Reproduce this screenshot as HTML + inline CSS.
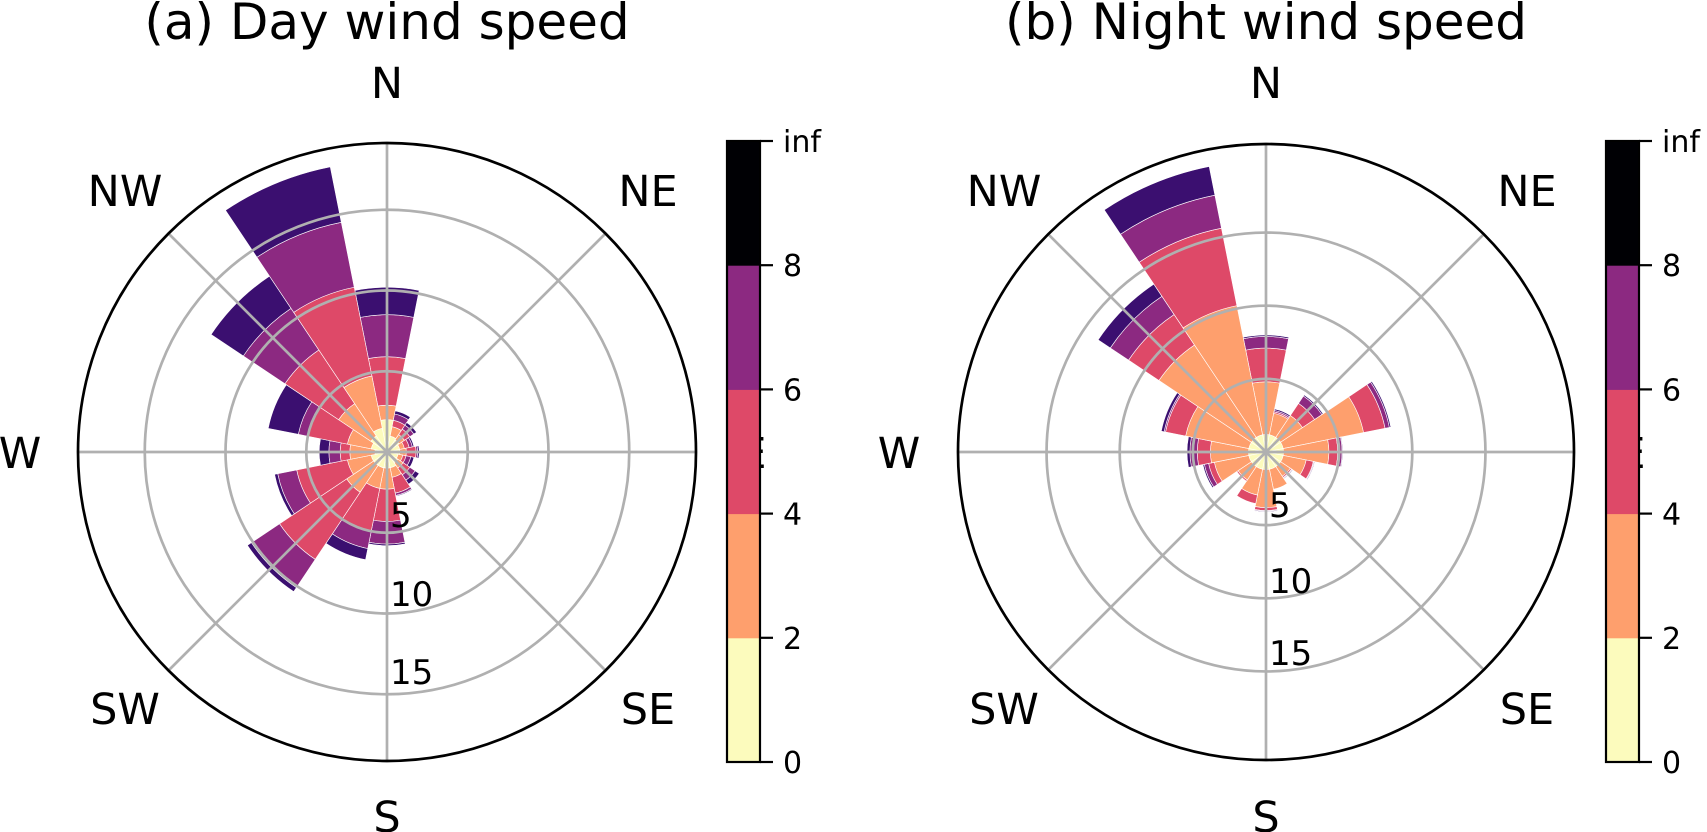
<!DOCTYPE html>
<html><head><meta charset="utf-8"><style>
html,body{margin:0;padding:0;background:#fff;}
svg{display:block;font-family:"DejaVu Sans","Liberation Sans",sans-serif;}
</style></head><body>
<svg id="fig" width="1707" height="832" viewBox="0 0 1707 832"></svg>
<script>
const directions = ["N","NNE","NE","ENE","E","ESE","SE","SSE","S","SSW","SW","WSW","W","WNW","NW","NNW"];
const binLabels = ["0-2","2-4","4-6","6-8","8-inf"];
const binColors = ["#fcfbbd","#fe9f6d","#de4968","#8c2981","#3b0f70"];
const cbTicks = ["0","2","4","6","8","inf"];
const cbColors = ["#fcfbbd","#fe9f6d","#de4968","#8c2981","#000004"];
// Day: per-bin frequency (stacked), per direction
const day0 = [2.0,1.0,0.9,0.8,0.8,0.7,0.8,1.0,1.0,1.0,1.0,1.0,0.75,1.0,1.2,1.5];
const day1 = [0.9,0.6,0.4,0.3,0.4,0.3,0.4,0.6,1.3,1.3,2.0,1.5,1.55,1.5,2.4,3.3];
const day2 = [3.0,0.4,0.4,0.3,0.6,0.2,0.5,1.0,2.0,2.7,5.0,3.2,0.6,2.5,4.0,5.6];
const day3 = [2.6,0.4,0.3,0.2,0.1,0.3,0.4,0.15,1.4,1.1,2.1,1.2,0.7,0.6,3.1,4.1];
const day4 = [1.7,0.2,0.2,0.1,0.1,0.2,0.3,0.05,0.1,0.7,0.3,0.2,0.6,1.9,2.4,3.5];
// Night
const night0 = [1.2,1.2,1.2,1.2,1.2,1.2,1.2,1.2,1.2,1.2,1.2,1.2,1.2,1.2,1.2,1.2];
const night1 = [3.6,1.5,1.8,5.6,3.1,1.6,0.8,1.4,2.6,1.8,1.1,2.4,2.6,4.4,7.6,9.0];
const night2 = [2.3,0.1,1.0,1.5,0.6,0.5,0.1,0.0,0.2,0.6,0.1,0.4,0.9,1.4,2.5,5.4];
const night3 = [0.8,0.1,0.6,0.3,0.3,0.05,0.05,0.0,0.05,0.0,0.0,0.3,0.5,0.1,1.5,2.3];
const night4 = [0.1,0.1,0.1,0.1,0.05,0.05,0.05,0.0,0.05,0.0,0.0,0.1,0.2,0.2,1.0,2.0];
const radialTicks = [5,10,15];

const NS="http://www.w3.org/2000/svg";
const svg=document.getElementById('fig');
function mk(tag,attrs,parent){const e=document.createElementNS(NS,tag);for(const k in attrs)e.setAttribute(k,attrs[k]);(parent||svg).appendChild(e);return e;}

function drawRose(cfg){
  const g=mk('g',{});
  
  
  const cx=cfg.cx, cy=cfg.cy, R=cfg.R, ppu=cfg.ppu;
  const rScale=v=>v*ppu;
  const pt=(deg,r)=>[cx+r*Math.sin(deg*Math.PI/180), cy-r*Math.cos(deg*Math.PI/180)];
  const bins=cfg.bins;
  for(let d=0; d<directions.length; d++){
    let base=0;
    const a0=d*22.5-11.25, a1=d*22.5+11.25;
    for(let b=0;b<bins.length;b++){
      const v=bins[b][d]; if(v<=0) continue;
      const r0=rScale(base), r1=rScale(base+v);
      base+=v;
      const p1=pt(a0,r0),p2=pt(a0,r1),p3=pt(a1,r1),p4=pt(a1,r0);
      const path=`M${p1[0]},${p1[1]} L${p2[0]},${p2[1]} A${r1},${r1} 0 0 1 ${p3[0]},${p3[1]} L${p4[0]},${p4[1]} `+(r0>0?`A${r0},${r0} 0 0 0 ${p1[0]},${p1[1]}`:'')+'Z';
      const el=mk('path',{d:path,fill:binColors[b],stroke:'#fff','stroke-width':0.6},g);
      
      
    }
  }
  radialTicks.forEach(t=>{
    const c=mk('circle',{cx:cx,cy:cy,r:rScale(t),fill:'none',stroke:'#b0b0b0','stroke-width':2.7},g);
    
    
  });
  for(let k=0;k<8;k++){
    const p=pt(k*45,R);
    const l=mk('line',{x1:cx,y1:cy,x2:p[0],y2:p[1],stroke:'#b0b0b0','stroke-width':2.7},g);
    
    
  }
  const oc=mk('circle',{cx:cx,cy:cy,r:R,fill:'none',stroke:'#000','stroke-width':2.7},g);
  
  
  radialTicks.forEach((t,i)=>{
    const tx=mk('text',{x:cx+3,y:cfg.rlab[i],'font-size':34,fill:'#000'},g);
    tx.textContent=String(t);
    
    
  });
  const dl=[["N",cx,82],["NE",cx+261,190],["E",cx+366,452],["SE",cx+261,708],["S",cx,816],["SW",cx-262,708],["W",cx-367,452],["NW",cx-262,190]];
  dl.forEach(o=>{
    const tx=mk('text',{x:o[1],y:o[2]+16,'font-size':43,'text-anchor':'middle',fill:'#000'},g);
    tx.textContent=o[0];
    
    
  });
  const tt=mk('text',{x:cx,y:39,'font-size':50,'text-anchor':'middle',fill:'#000'},g);
  tt.textContent=cfg.title;
  
  
  const cb=mk('g',{},g);
  
  
  const x0=cfg.cbx, top=141, bot=762, w=33, seg=(bot-top)/cbColors.length;
  cbColors.forEach((c,i)=>{
    const r=mk('rect',{x:x0,y:bot-(i+1)*seg,width:w,height:seg+0.5,fill:c},cb);
    
    
  });
  mk('rect',{x:x0,y:top,width:w,height:bot-top,fill:'none',stroke:'#000','stroke-width':2.2},cb);
  cbTicks.forEach((t,i)=>{
    const y=bot-i*seg;
    mk('line',{x1:x0+w,y1:y,x2:x0+w+13,y2:y,stroke:'#000','stroke-width':2.2},cb);
    const tx=mk('text',{x:x0+w+23,y:y+11,'font-size':30,fill:'#000'},cb);
    tx.textContent=t;
    
    
  });
}
drawRose({name:'day-wind-rose',title:'(a) Day wind speed',cx:387,cy:452,R:309,ppu:16.15,
  bins:[day0,day1,day2,day3,day4],rlab:[527,606,684],cbx:727});
drawRose({name:'night-wind-rose',title:'(b) Night wind speed',cx:1266,cy:452,R:308,ppu:14.63,
  bins:[night0,night1,night2,night3,night4],rlab:[517,593,665],cbx:1606});
</script>
</body></html>
